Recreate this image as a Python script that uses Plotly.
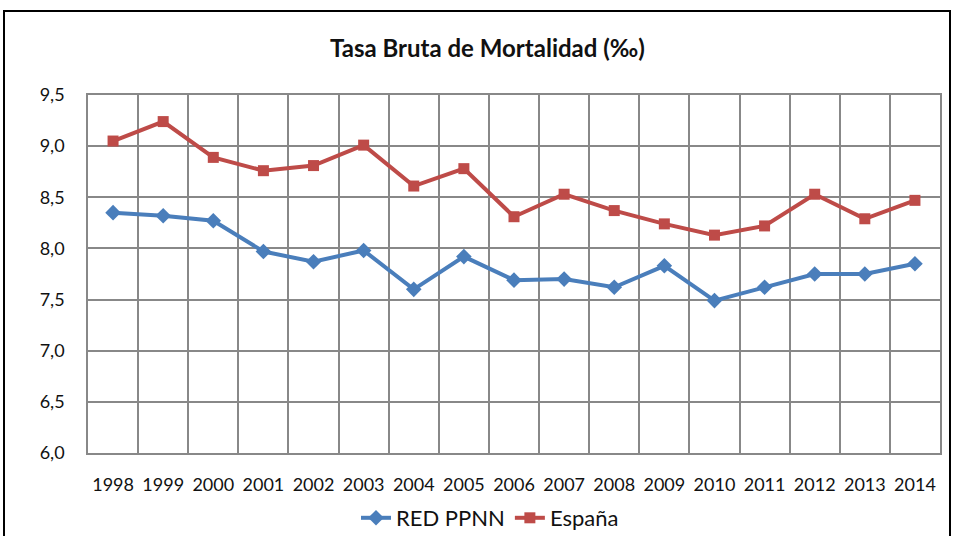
import plotly.graph_objects as go

years = list(range(1998, 2015))
red_ppnn = [8.35, 8.32, 8.27, 7.97, 7.87, 7.98, 7.60, 7.92, 7.69, 7.70, 7.62, 7.83, 7.49, 7.62, 7.75, 7.75, 7.85]
espana = [9.05, 9.24, 8.89, 8.76, 8.81, 9.01, 8.61, 8.78, 8.31, 8.53, 8.37, 8.24, 8.13, 8.22, 8.53, 8.29, 8.47]
y_ticks = [6.0, 6.5, 7.0, 7.5, 8.0, 8.5, 9.0, 9.5]

FONT = "Lato, 'Open Sans', sans-serif"

fig = go.Figure()
fig.add_trace(go.Scatter(
    x=years, y=red_ppnn, name="RED PPNN", mode="lines+markers",
    line=dict(color="#4A7EBB", width=4),
    marker=dict(symbol="diamond", size=12, color="#4A7EBB"),
))
fig.add_trace(go.Scatter(
    x=years, y=espana, name="España", mode="lines+markers",
    line=dict(color="#BE4B48", width=4),
    marker=dict(symbol="square", size=11, color="#BE4B48"),
))

W, H = 956, 536
# screen positions of plot area
SL, SR, ST, SB = 88, 940, 95, 453
L, T, R, B = SL, ST, W - SR, H - SB
pw, ph = W - L - R, H - T - B

def px_x(p):
    return (p - L) / pw

def px_y(p):
    return (H - B - p) / ph

fig.update_layout(
    width=W, height=H,
    margin=dict(l=L, r=R, t=T, b=B, autoexpand=False),
    paper_bgcolor="white", plot_bgcolor="white",
    separators=",.",
    font=dict(family=FONT, size=18, color="#111"),
    showlegend=True,
    legend=dict(orientation="h", x=px_x(490), xanchor="center", y=px_y(518), yanchor="middle",
                font=dict(size=22, color="#111"), tracegroupgap=0),
    annotations=[dict(text="<b>Tasa Bruta de Mortalidad (‰)</b>", x=px_x(487), y=px_y(48),
                      xref="paper", yref="paper", showarrow=False,
                      xanchor="center", yanchor="middle",
                      font=dict(size=24, color="#111", family=FONT))],
    shapes=[dict(type="rect", xref="paper", yref="paper",
                 x0=px_x(4), x1=px_x(950), y0=px_y(570), y1=px_y(11),
                 line=dict(color="black", width=2), layer="below")],
)
fig.update_xaxes(
    range=[1997.5, 2014.5], tickvals=years, ticktext=[str(y) for y in years],
    showgrid=False, zeroline=False, automargin=False,
    showline=True, linecolor="#888", linewidth=2, mirror=True,
    ticks="", ticklabelstandoff=14,
    minor=dict(showgrid=True, tick0=1997.5, dtick=1, gridcolor="#888", gridwidth=1.5),
    tickfont=dict(size=18, color="#111"),
)
fig.update_yaxes(
    range=[6.0, 9.5], tickvals=y_ticks, tickformat=".1f",
    showgrid=True, gridcolor="#888", gridwidth=1.5, zeroline=False, automargin=False,
    showline=True, linecolor="#888", linewidth=1.5, mirror=True,
    ticks="", ticklabelstandoff=18,
    tickfont=dict(size=18, color="#111"),
)

fig.write_html("out.html", config={"displayModeBar": False},
               post_script="document.body.style.margin='0';")
